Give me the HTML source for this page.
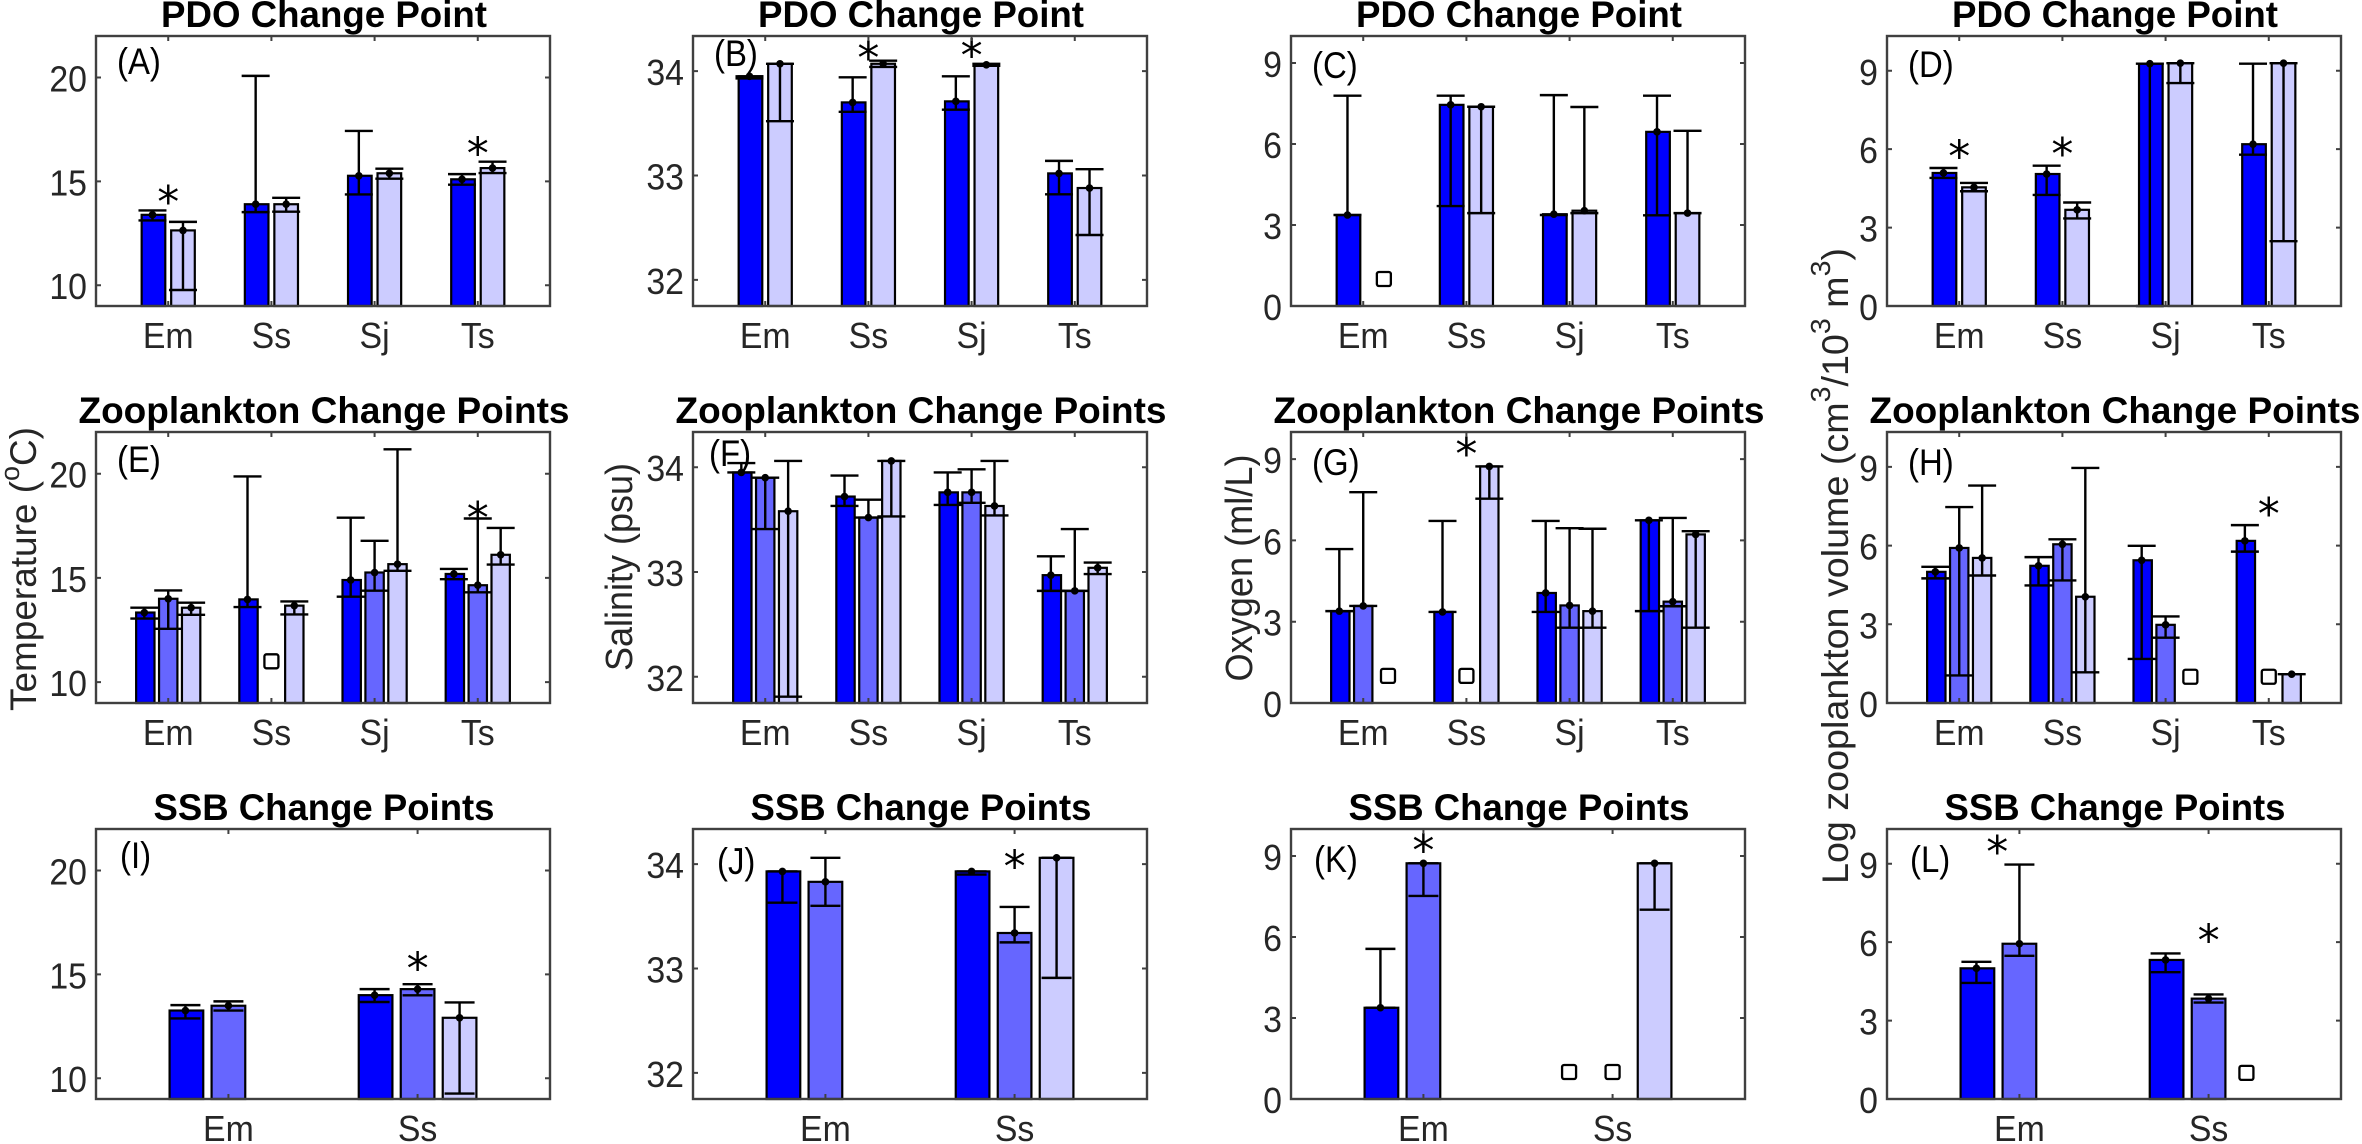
<!DOCTYPE html>
<html>
<head>
<meta charset="utf-8">
<title>Change point bar charts</title>
<style>
html,body{margin:0;padding:0;background:#fff;}
svg{display:block;filter:blur(0.35px);}
text{font-family:"Liberation Sans",Arial,sans-serif;fill:#262626;}
</style>
</head>
<body>
<svg id="fig" xmlns="http://www.w3.org/2000/svg" width="2362" height="1144" viewBox="0 0 2362 1144">
<rect width="2362" height="1144" fill="#fff"/>
<text transform="translate(36 569) rotate(-90)" text-anchor="middle" font-size="37" textLength="284" lengthAdjust="spacingAndGlyphs">Temperature (<tspan font-size="27" dy="-17">o</tspan><tspan dy="17">C)</tspan></text>
<text transform="translate(632 567) rotate(-90)" text-anchor="middle" font-size="38" textLength="208" lengthAdjust="spacingAndGlyphs">Salinity (psu)</text>
<text transform="translate(1252 568) rotate(-90)" text-anchor="middle" font-size="38" textLength="227" lengthAdjust="spacingAndGlyphs">Oxygen (ml/L)</text>
<text transform="translate(1848 566) rotate(-90)" text-anchor="middle" font-size="37" textLength="636" lengthAdjust="spacingAndGlyphs">Log zooplankton volume (cm<tspan font-size="28" dy="-18">3</tspan><tspan dy="18">/10</tspan><tspan font-size="28" dy="-18">3</tspan><tspan dy="18"> m</tspan><tspan font-size="28" dy="-18">3</tspan><tspan dy="18">)</tspan></text>
</svg>
<script>
// Shared category and axis data
const fourCategories = ['Em', 'Ss', 'Sj', 'Ts'];
const twoCategories = ['Em', 'Ss'];
const temperatureTicks = [10, 15, 20];
const salinityTicks = [32, 33, 34];
const oxygenTicks = [0, 3, 6, 9];
const volumeTicks = [0, 3, 6, 9];

// Panel A
const aValues = [[13.39, 12.64], [13.9, 13.9], [15.27, 15.39], [15.1, 15.64]];
const aLow = [[13.12, 9.77], [13.52, 13.54], [14.37, 15.13], [14.84, 15.4]];
const aHigh = [[13.6, 13.05], [20.08, 14.21], [17.43, 15.61], [15.35, 15.95]];
const aStarX = [1, 4];
const aStarY = [14.28, 16.6];
const aSquareX = [];
const aSquareY = [];

// Panel B
const bValues = [[33.95, 34.07], [33.7, 34.07], [33.71, 34.06], [33.02, 32.88]];
const bLow = [[33.93, 33.52], [33.61, 34.04], [33.63, 34.05], [32.82, 32.43]];
const bHigh = [[33.95, 34.07], [33.94, 34.1], [33.95, 34.07], [33.14, 33.06]];
const bStarX = [2, 3];
const bStarY = [34.18, 34.2];
const bSquareX = [];
const bSquareY = [];

// Panel C
const cValues = [[3.37, null], [7.45, 7.38], [3.4, 3.53], [6.45, 3.44]];
const cLow = [[3.37, null], [3.7, 3.44], [3.37, 3.44], [3.36, 3.44]];
const cHigh = [[7.79, null], [7.79, 7.38], [7.81, 7.37], [7.79, 6.49]];
const cStarX = [];
const cStarY = [];
const cSquareX = [1.2];
const cSquareY = [1];

// Panel D
const dValues = [[5.09, 4.54], [5.05, 3.68], [9.27, 9.29], [6.19, 9.29]];
const dLow = [[4.9, 4.39], [4.25, 3.35], [0, 8.53], [5.79, 2.48]];
const dHigh = [[5.28, 4.71], [5.37, 3.96], [9.27, 9.29], [9.27, 9.29]];
const dStarX = [1, 2];
const dStarY = [5.93, 6.02];
const dSquareX = [];
const dSquareY = [];

// Panel E
const eValues = [[13.34, 14.0, 13.57], [13.97, null, 13.67], [14.9, 15.26, 15.66], [15.19, 14.65, 16.11]];
const eLow = [[13.05, 12.56, 13.23], [13.6, null, 13.25], [14.1, 14.39, 15.34], [14.94, 14.31, 15.64]];
const eHigh = [[13.57, 14.4, 13.81], [19.87, null, 13.87], [17.89, 16.78, 21.17], [15.43, 17.85, 17.4]];
const eStarX = [4];
const eStarY = [18.15];
const eSquareX = [2];
const eSquareY = [11];

// Panel F
const fValues = [[33.95, 33.9, 33.58], [33.72, 33.52, 34.06], [33.76, 33.76, 33.63], [32.97, 32.82, 33.04]];
const fLow = [[33.95, 33.41, 31.81], [33.63, 33.52, 33.53], [33.64, 33.66, 33.54], [32.82, 32.82, 32.98]];
const fHigh = [[34.04, 33.9, 34.06], [33.92, 33.69, 34.06], [33.95, 33.98, 34.06], [33.15, 33.41, 33.09]];
const fStarX = [];
const fStarY = [];
const fSquareX = [];
const fSquareY = [];

// Panel G
const gValues = [[3.39, 3.58, null], [3.36, null, 8.73], [4.06, 3.6, 3.39], [6.74, 3.74, 6.22]];
const gLow = [[3.39, 3.58, null], [3.36, null, 7.54], [3.36, 2.78, 2.78], [3.39, 3.57, 2.78]];
const gHigh = [[5.68, 7.78, null], [6.72, null, 8.73], [6.72, 6.45, 6.43], [6.74, 6.83, 6.34]];
const gStarX = [2];
const gStarY = [9.4];
const gSquareX = [1.24, 2];
const gSquareY = [1, 1];

// Panel H
const hValues = [[5.0, 5.91, 5.53], [5.23, 6.05, 4.05], [5.44, 2.98, null], [6.18, null, 1.1]];
const hLow = [[4.75, 1.05, 4.86], [4.48, 4.67, 1.17], [1.68, 2.49, null], [5.77, null, 1.1]];
const hHigh = [[5.19, 7.47, 8.29], [5.56, 6.24, 8.96], [5.99, 3.3, null], [6.78, null, 1.1]];
const hStarX = [4];
const hStarY = [7.42];
const hSquareX = [3.24, 4];
const hSquareY = [1, 1];

// Panel I
const iValues = [[13.26, 13.49, null], [14.0, 14.29, 12.91]];
const iLow = [[12.88, 13.26, null], [13.67, 13.99, 9.26]];
const iHigh = [[13.52, 13.7, null], [14.29, 14.53, 13.65]];
const iStarX = [2];
const iStarY = [15.56];
const iSquareX = [];
const iSquareY = [];

// Panel J
const jValues = [[33.93, 33.83, null], [33.93, 33.34, 34.06]];
const jLow = [[33.63, 33.6, null], [33.9, 33.25, 32.91]];
const jHigh = [[33.93, 34.06, null], [33.93, 33.59, 34.06]];
const jStarX = [2];
const jStarY = [34.03];
const jSquareX = [];
const jSquareY = [];

// Panel K
const kValues = [[3.38, 8.73, null], [null, null, 8.73]];
const kLow = [[3.38, 7.52, null], [null, null, 7.01]];
const kHigh = [[5.56, 8.73, null], [null, null, 8.73]];
const kStarX = [1];
const kStarY = [9.4];
const kSquareX = [1.77, 2];
const kSquareY = [1, 1];

// Panel L
const lValues = [[5.0, 5.94, null], [5.32, 3.84, null]];
const lLow = [[4.44, 5.48, null], [4.85, 3.69, null]];
const lHigh = [[5.25, 8.97, null], [5.57, 4.0, null]];
const lStarX = [0.883, 2];
const lStarY = [9.66, 6.27];
const lSquareX = [2.2];
const lSquareY = [1];

const NS = 'http://www.w3.org/2000/svg';
const fig = document.getElementById('fig');
const columnLeft = [96, 693, 1291, 1887];
const rowTop = [36, 432, 829];
const rowBottom = [306, 703, 1099];
const rowTitleBase = [27, 423, 820];
const rowXLabelBase = [348, 745, 1141];
const panelWidth = 454;
const rowTitles = ['PDO Change Point', 'Zooplankton Change Points', 'SSB Change Points'];
const titleWidths = [326, 491, 341];
const blue2 = ['#0000ff', '#ccccff'];
const blue3 = ['#0000ff', '#6666ff', '#ccccff'];

function mk(parent, tag, attrs, txt) {
  const el = document.createElementNS(NS, tag);
  for (const k in attrs) el.setAttribute(k, attrs[k]);
  if (txt !== undefined) el.textContent = txt;
  parent.appendChild(el);
  return el;
}

function drawPanel(p) {
  const left = columnLeft[p.col], right = left + panelWidth;
  const top = rowTop[p.row], bottom = rowBottom[p.row];
  const n = p.categories.length;
  const xMax = n + 0.7;
  const unit = panelWidth / (xMax - 0.3);
  const X = c => left + (c - 0.3) * unit;
  const Y = v => bottom - (v - p.yMin) / (p.yMax - p.yMin) * (bottom - top);
  const nSer = p.values[0].length;
  const slot = nSer === 2 ? 0.286 : 0.222;
  const barW = (nSer === 2 ? 0.229 : 0.178) * unit;
  const capHalf = n === 2 ? 15 : 14;
  const colors = nSer === 2 ? blue2 : blue3;
  const seriesX = (ci, si) => X(ci + 1) + (si - (nSer - 1) / 2) * slot * unit;

  const g = mk(fig, 'g', {});
  
  

  const title = mk(g, 'text', {x: left + panelWidth / 2 + 1, y: rowTitleBase[p.row], 'text-anchor': 'middle', 'font-size': 37, 'font-weight': 'bold', style: 'fill:#000', textLength: titleWidths[p.row], lengthAdjust: 'spacingAndGlyphs'}, rowTitles[p.row]);
  
  

  p.values.forEach((group, ci) => {
    group.forEach((v, si) => {
      if (v === null) return;
      const bx = seriesX(ci, si);
      const bar = mk(g, 'rect', {x: bx - barW / 2, y: Y(v), width: barW, height: bottom - Y(v), fill: colors[si], stroke: '#000', 'stroke-width': 2.2});
      
      
    });
  });

  p.values.forEach((group, ci) => {
    group.forEach((v, si) => {
      if (v === null) return;
      const bx = seriesX(ci, si) - (si === 0 ? 1 : 0);
      const yl = Y(p.low[ci][si]), yh = Y(p.high[ci][si]);
      const eb = mk(g, 'path', {d: 'M' + bx + ' ' + yh + 'V' + yl + 'M' + (bx - capHalf) + ' ' + yh + 'H' + (bx + capHalf) + 'M' + (bx - capHalf) + ' ' + yl + 'H' + (bx + capHalf), fill: 'none', stroke: '#000', 'stroke-width': 2.4});
      
      
      const dot = mk(g, 'circle', {cx: bx, cy: Y(v), r: 3.8, fill: '#000'});
      
      
    });
  });

  p.squareX.forEach((sx, i) => {
    const sq = mk(g, 'rect', {x: X(sx) - 7, y: Y(p.squareY[i]) - 7, width: 14, height: 14, rx: 2, fill: '#fff', stroke: '#000', 'stroke-width': 2.3});
    
    
  });

  p.starX.forEach((sx, i) => {
    const st = mk(g, 'text', {x: X(sx), y: Y(p.starY[i]) + 20.5, 'text-anchor': 'middle', 'font-size': 44, style: 'fill:#000;font-family:"DejaVu Sans",sans-serif'}, '*');
    
    
  });

  const box = mk(g, 'rect', {x: left, y: top, width: panelWidth, height: bottom - top, fill: 'none', stroke: '#404040', 'stroke-width': 2.4});
  
  

  p.categories.forEach((c, i) => {
    const tx = X(i + 1);
    const tk = mk(g, 'path', {d: 'M' + tx + ' ' + bottom + 'v-5M' + tx + ' ' + top + 'v5', stroke: '#404040', 'stroke-width': 2});
    
    
    const lb = mk(g, 'text', {transform: 'translate(' + tx + ' ' + rowXLabelBase[p.row] + ') scale(0.94 1)', 'text-anchor': 'middle', 'font-size': 36}, c);
    
    
  });

  p.ticks.forEach(t => {
    const ty = Y(t);
    const tk = mk(g, 'path', {d: 'M' + left + ' ' + ty + 'h5M' + right + ' ' + ty + 'h-5', stroke: '#404040', 'stroke-width': 2});
    
    
    const lb = mk(g, 'text', {transform: 'translate(' + (left - 9) + ' ' + (ty + 14) + ') scale(0.94 1)', 'text-anchor': 'end', 'font-size': 36}, String(t));
    
    
  });

  const letter = mk(g, 'text', {transform: 'translate(' + p.lx + ' ' + p.ly + ') scale(0.89 1)', 'font-size': 37, style: 'fill:#000'}, p.letter);
  
  
}

const panels = [
  {id: 'a', letter: '(A)', col: 0, row: 0, lx: 117, ly: 74, yMin: 9, yMax: 22, ticks: temperatureTicks, categories: fourCategories, values: aValues, low: aLow, high: aHigh, starX: aStarX, starY: aStarY, squareX: aSquareX, squareY: aSquareY},
  {id: 'b', letter: '(B)', col: 1, row: 0, lx: 714, ly: 66, yMin: 31.75, yMax: 34.336, ticks: salinityTicks, categories: fourCategories, values: bValues, low: bLow, high: bHigh, starX: bStarX, starY: bStarY, squareX: bSquareX, squareY: bSquareY},
  {id: 'c', letter: '(C)', col: 2, row: 0, lx: 1312, ly: 78, yMin: 0, yMax: 10, ticks: oxygenTicks, categories: fourCategories, values: cValues, low: cLow, high: cHigh, starX: cStarX, starY: cStarY, squareX: cSquareX, squareY: cSquareY},
  {id: 'd', letter: '(D)', col: 3, row: 0, lx: 1908, ly: 77, yMin: 0, yMax: 10.33, ticks: volumeTicks, categories: fourCategories, values: dValues, low: dLow, high: dHigh, starX: dStarX, starY: dStarY, squareX: dSquareX, squareY: dSquareY},
  {id: 'e', letter: '(E)', col: 0, row: 1, lx: 117, ly: 472, yMin: 9, yMax: 22, ticks: temperatureTicks, categories: fourCategories, values: eValues, low: eLow, high: eHigh, starX: eStarX, starY: eStarY, squareX: eSquareX, squareY: eSquareY},
  {id: 'f', letter: '(F)', col: 1, row: 1, lx: 709, ly: 466, yMin: 31.75, yMax: 34.336, ticks: salinityTicks, categories: fourCategories, values: fValues, low: fLow, high: fHigh, starX: fStarX, starY: fStarY, squareX: fSquareX, squareY: fSquareY},
  {id: 'g', letter: '(G)', col: 2, row: 1, lx: 1312, ly: 475, yMin: 0, yMax: 10, ticks: oxygenTicks, categories: fourCategories, values: gValues, low: gLow, high: gHigh, starX: gStarX, starY: gStarY, squareX: gSquareX, squareY: gSquareY},
  {id: 'h', letter: '(H)', col: 3, row: 1, lx: 1908, ly: 475, yMin: 0, yMax: 10.33, ticks: volumeTicks, categories: fourCategories, values: hValues, low: hLow, high: hHigh, starX: hStarX, starY: hStarY, squareX: hSquareX, squareY: hSquareY},
  {id: 'i', letter: '(I)', col: 0, row: 2, lx: 120, ly: 868, yMin: 9, yMax: 22, ticks: temperatureTicks, categories: twoCategories, values: iValues, low: iLow, high: iHigh, starX: iStarX, starY: iStarY, squareX: iSquareX, squareY: iSquareY},
  {id: 'j', letter: '(J)', col: 1, row: 2, lx: 717, ly: 874, yMin: 31.75, yMax: 34.336, ticks: salinityTicks, categories: twoCategories, values: jValues, low: jLow, high: jHigh, starX: jStarX, starY: jStarY, squareX: jSquareX, squareY: jSquareY},
  {id: 'k', letter: '(K)', col: 2, row: 2, lx: 1314, ly: 872, yMin: 0, yMax: 10, ticks: oxygenTicks, categories: twoCategories, values: kValues, low: kLow, high: kHigh, starX: kStarX, starY: kStarY, squareX: kSquareX, squareY: kSquareY},
  {id: 'l', letter: '(L)', col: 3, row: 2, lx: 1910, ly: 872, yMin: 0, yMax: 10.33, ticks: volumeTicks, categories: twoCategories, values: lValues, low: lLow, high: lHigh, starX: lStarX, starY: lStarY, squareX: lSquareX, squareY: lSquareY}
];
panels.forEach(drawPanel);
</script>
</body>
</html>
